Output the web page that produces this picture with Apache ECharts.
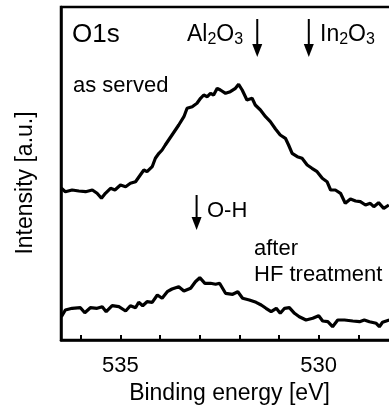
<!DOCTYPE html>
<html>
<head>
<meta charset="utf-8">
<script src="https://cdn.jsdelivr.net/npm/echarts@6/dist/echarts.min.js"></script>
<style>
  html, body { margin: 0; padding: 0; background: #fff; }
  #chart { width: 389px; height: 409px; }
</style>
</head>
<body>
<div id="chart"></div>
<script>
// O1s spectra, binding energy [eV] vs intensity [a.u.]
const asServedE = [536.49, 536.39, 536.22, 536.05, 535.88, 535.71, 535.59, 535.48, 535.38, 535.25, 535.14, 535.00,
  534.87, 534.75, 534.62, 534.50, 534.41, 534.33, 534.20, 534.12, 534.03, 533.95, 533.87, 533.70, 533.53, 533.40,
  533.32, 533.19, 533.07, 532.98, 532.90, 532.81, 532.73, 532.65, 532.56, 532.48, 532.35, 532.23, 532.10, 532.02,
  531.93, 531.81, 531.68, 531.60, 531.47, 531.34, 531.22, 531.09, 530.97, 530.84, 530.76, 530.67, 530.54, 530.42,
  530.29, 530.17, 530.04, 529.91, 529.79, 529.70, 529.58, 529.45, 529.33, 529.20, 529.07, 528.95, 528.82, 528.70,
  528.61, 528.49, 528.36, 528.23];
const asServedI = [151.7, 148.3, 150, 149, 148.3, 150, 146.7, 141.7, 146.7, 151.7, 150, 155,
  153.3, 156.7, 158.3, 165, 170, 168.3, 173.3, 181.7, 186.7, 190, 195, 205, 215, 223.3,
  231.7, 233.3, 236.7, 241.7, 245, 243.3, 246.7, 245, 251.7, 250, 246.7, 248.3, 251.7, 255.7,
  250, 240, 241.7, 235, 230, 223.3, 218.3, 211, 205, 201.7, 195, 186.7, 183.3, 181.7,
  175, 171.7, 168.3, 161.7, 158.3, 150, 150, 146.7, 136.7, 141, 139, 138.3, 135, 136.7,
  133.3, 137.3, 131.7, 135];

const afterHfE = [536.49, 536.39, 536.22, 536.01, 535.90, 535.76, 535.59, 535.46, 535.36, 535.21, 535.04,
  534.87, 534.75, 534.62, 534.54, 534.44, 534.33, 534.20, 534.07, 533.95, 533.82, 533.70, 533.53, 533.40,
  533.23, 533.11, 533.00, 532.87, 532.73, 532.60, 532.50, 532.35, 532.17, 532.04, 531.92, 531.75, 531.58,
  531.45, 531.33, 531.20, 531.07, 530.97, 530.86, 530.74, 530.61, 530.49, 530.32, 530.15, 530.00, 529.90,
  529.77, 529.65, 529.52, 529.35, 529.14, 528.97, 528.85, 528.72, 528.55, 528.47, 528.39, 528.22];
const afterHfI = [23.3, 30, 31.7, 32.3, 27.3, 32.3, 31.7, 33.3, 28.3, 34.3, 33.3,
  29, 34.3, 32.3, 37.7, 34.3, 38.3, 37.7, 45, 41.7, 48.3, 51, 53.3, 49,
  51.7, 58.3, 62.3, 56.7, 56.7, 55.7, 56.7, 46.7, 45.7, 48.3, 41.7, 40, 37.7,
  35, 31.7, 28.3, 31.7, 26.7, 31.7, 32.3, 26.7, 23.3, 20, 21.7, 24.3, 19,
  18.3, 13.3, 20, 20, 19, 18.3, 20, 18.3, 16.7, 13.3, 17.7, 20];

// peak markers (binding energy of the arrows)
const markerNames = ['Al2O3', 'In2O3', 'O-H'];
const markerEnergy = [531.55, 530.25, 533.08];

const xTickLabels = [530, 535];

const FONT = '"Liberation Sans", Arial, sans-serif';

const pairs = (xs, ys) => xs.map((x, i) => [x, ys[i]]);

const chart = echarts.init(document.getElementById('chart'));

const option = {
  backgroundColor: '#fff',
  animation: false,
  grid: {
    left: 61, top: 7, bottom: 69, right: -9,
    outerBoundsMode: 'none',
    containLabel: false,
    show: true, borderColor: '#000', borderWidth: 2.5
  },
  xAxis: {
    type: 'value',
    inverse: true,
    min: 528, max: 536.5, interval: 1,
    name: 'Binding energy [eV]',
    nameLocation: 'middle',
    nameGap: 39,
    nameTextStyle: { fontFamily: FONT, fontSize: 23, color: '#000' },
    axisLine: { lineStyle: { color: '#000', width: 2.5 } },
    axisTick: { inside: true, length: 5, lineStyle: { color: '#000', width: 2 } },
    axisLabel: {
      margin: 15,
      fontFamily: FONT, fontSize: 22, color: '#000',
      formatter: v => xTickLabels.includes(v) ? String(v) : ''
    },
    splitLine: { show: false }
  },
  yAxis: {
    type: 'value',
    min: 0, max: 333,
    axisLine: { show: true, lineStyle: { color: '#000', width: 2.5 } },
    axisTick: { show: false },
    axisLabel: { show: false },
    splitLine: { show: false }
  },
  series: [
    {
      name: 'as served', type: 'line', showSymbol: false,
      data: pairs(asServedE, asServedI),
      lineStyle: { color: '#000', width: 3.2 }
    },
    {
      name: 'after HF treatment', type: 'line', showSymbol: false,
      data: pairs(afterHfE, afterHfI),
      lineStyle: { color: '#000', width: 3.2 }
    }
  ]
};

chart.setOption(option);

// arrows placed at the marker energies, texts next to them
const sub = { fontFamily: FONT, fontSize: 16, fill: '#000', padding: [10, 0, 0, 0] };
const main = { fontFamily: FONT, fontSize: 23, fill: '#000' };

function arrow(energy, yTop, yBottom) {
  const x = chart.convertToPixel({ xAxisIndex: 0 }, energy);
  return {
    type: 'group',
    children: [
      { type: 'line', shape: { x1: x, y1: yTop, x2: x, y2: yBottom - 8 }, style: { stroke: '#000', lineWidth: 2 } },
      { type: 'polygon', shape: { points: [[x - 5, yBottom - 13], [x + 5, yBottom - 13], [x, yBottom]] }, style: { fill: '#000' } }
    ]
  };
}

function label(text, x, y, size) {
  return {
    type: 'text',
    style: { x: x, y: y, text: text, fontFamily: FONT, fontSize: size || 22, fill: '#000', verticalAlign: 'middle' }
  };
}

chart.setOption({
  graphic: [
    // y axis title, reads bottom to top
    {
      type: 'text', x: 26, y: 183, rotation: Math.PI / 2,
      style: { text: 'Intensity [a.u.]', fontFamily: FONT, fontSize: 23, fill: '#000', align: 'center', verticalAlign: 'middle' }
    },
    label('O1s', 72, 35, 26),
    label('as served', 73, 86, 22),
    {
      type: 'text',
      style: {
        x: 187, y: 35, verticalAlign: 'middle',
        text: '{m|Al}{s|2}{m|O}{s|3}',
        rich: { m: main, s: sub }
      }
    },
    {
      type: 'text',
      style: {
        x: 320, y: 35, verticalAlign: 'middle',
        text: '{m|In}{s|2}{m|O}{s|3}',
        rich: { m: main, s: sub }
      }
    },
    label('O-H', 207, 211, 22),
    label('after', 254, 249, 22),
    label('HF treatment', 254, 275, 22),
    arrow(markerEnergy[0], 19, 57),
    arrow(markerEnergy[1], 19, 57),
    arrow(markerEnergy[2], 195, 230)
  ]
});

window.addEventListener('resize', () => chart.resize());
</script>
</body>
</html>
